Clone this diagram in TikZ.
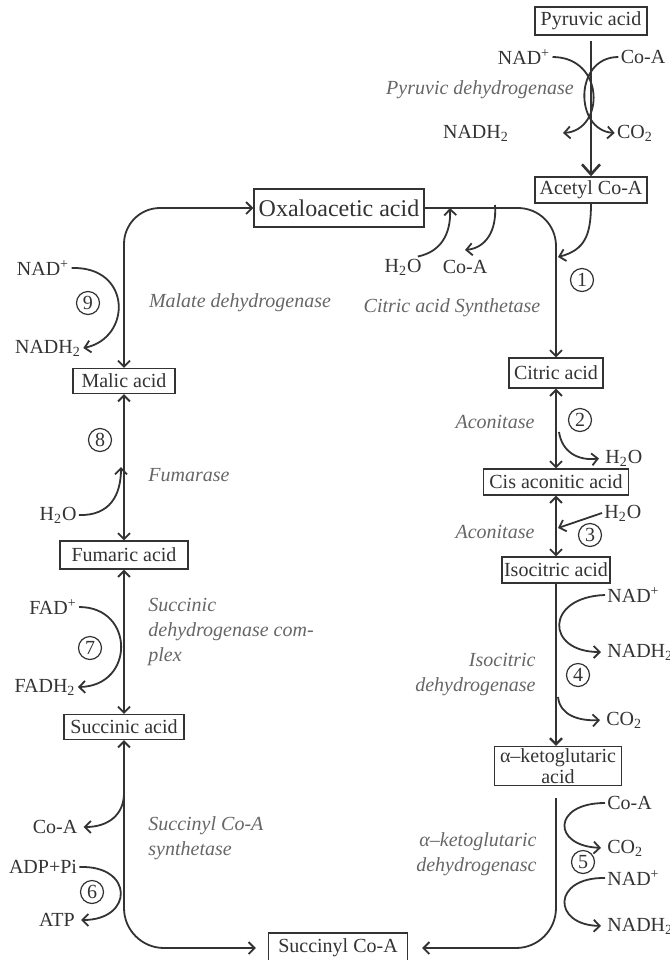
\documentclass[tikz,border=0pt]{standalone}
\usepackage{fontspec}
\setmainfont{Liberation Serif}
\usetikzlibrary{arrows.meta}

\begin{document}
\begin{tikzpicture}[x=0.5pt,y=-0.5pt,
  every node/.style={font=\fontsize{10}{12}\selectfont,text=black!80,inner sep=1pt},
  box/.style={draw=black!80,line width=0.7pt,minimum height=14pt},
  enz/.style={text=black!60,font=\fontsize{10}{12.5}\selectfont\itshape},
  num/.style={circle,draw=black!80,line width=0.6pt,minimum size=11.5pt,inner sep=0pt},
  link/.style={draw=black!80,line width=0.9pt},
  side/.style={link,->,shorten >=2pt},
  >={Straight Barb[length=3pt,width=6pt]}]

\useasboundingbox (0,0) rectangle (670,960);

\node[box,minimum width=56pt] (pyr) at (591,21) {Pyruvic acid};
\node[box,minimum width=56pt,minimum height=13pt] (acetyl) at (591,190) {Acetyl Co-A};
\node[box,minimum width=85pt,minimum height=19pt,font=\fontsize{12}{14}\selectfont] (oxalo) at (339,208) {Oxaloacetic acid};
\node[box,minimum width=47pt,minimum height=15pt] (citric) at (556,373) {Citric acid};
\node[box,minimum width=72.5pt,minimum height=13pt] (cis) at (556,482) {Cis aconitic acid};
\node[box,minimum width=54pt,minimum height=13pt] (iso) at (556,570) {Isocitric acid};
\node[box,minimum width=63.5pt,align=center,font=\fontsize{10}{10.5}\selectfont] (akg) at (558,766) {α–ketoglutaric\\acid};
\node[box,minimum width=69.5pt,minimum height=15pt] (succoa) at (338,948) {Succinyl Co-A};
\node[box,minimum width=60pt,minimum height=12.5pt] (succinic) at (124,727) {Succinic acid};
\node[box,minimum width=64pt] (fumaric) at (124,555) {Fumaric acid};
\node[box,minimum width=51pt,minimum height=12.5pt] (malic) at (124,381) {Malic acid};

\draw[link,->,rounded corners=19pt] (oxalo.east) -- (oxalo.east -| citric.north) -- (citric.north);
\draw[link,<->,rounded corners=18pt] (malic.north) |- (oxalo.west);
\draw[link,<->,rounded corners=20pt,shorten >=6pt] (succinic.south) |- (succoa.west);
\draw[link,->,rounded corners=20pt,shorten >=7pt] ([yshift=-6pt]akg.south -| iso.south) |- (succoa.east);
\draw[link,line width=1.3pt,-{Straight Barb[length=5pt,width=9pt]},shorten <=2.5pt] (pyr) -- (acetyl);
\draw[link,line width=1.1pt,->] (iso) -- (iso |- akg.north);
\foreach \a/\b in {citric/cis,cis/iso,malic/fumaric,fumaric/succinic}
  \draw[link,<->] (\a) -- (\b);

\node[enz] (pdh) at (480,90) {Pyruvic dehydrogenase};
\node[enz] (cas) at (452,308) {Citric acid Synthetase};
\node[enz] (acon1) at (495,422) {Aconitase};
\node[enz] (acon2) at (495,532) {Aconitase};
\node[enz,align=right,anchor=east] (idh) at (538,675) {Isocitric\\dehydrogenase};
\node[enz,align=right,anchor=east] (kdh) at (539,854) {α–ketoglutaric\\dehydrogenasc};
\node[enz] (mdh) at (240,303) {Malate dehydrogenase};
\node[enz] (fum) at (189,475) {Fumarase};
\node[enz,align=left,anchor=west] (sdh) at (146,632) {Succinic\\dehydrogenase com-\\plex};
\node[enz,align=left,anchor=west] (scs) at (146,838) {Succinyl Co-A\\synthetase};

\node (pdNAD) at (524,57) {NAD\textsuperscript{+}};
\node (pdCoA) at (643,57) {Co-A};
\node (pdNADH) at (476,133) {NADH\textsubscript{2}};
\node (pdCO) at (635,133) {CO\textsubscript{2}};
\coordinate (pdTip) at (563,133);
\draw[link,->] (pdNAD.east) .. controls (605,57) and (605,130) .. (pdTip);
\draw[link,->] (pdCoA.west) .. controls (574,57) and (574,130) .. (pdCO.west);

\node (ocH) at (403,267) {H\textsubscript{2}O};
\node (ocCoA) at (465,267) {Co-A};
\coordinate (ocHtip) at (450,208);
\coordinate (ocOut) at (495,205);
\coordinate (ocCoAtip) at (465,250);
\coordinate (acIn) at (558,257);
\draw[link,->] ([xshift=-3pt]ocH.north east) .. controls (440,252) and (451,235) .. (ocHtip);
\draw[link,->] (ocOut) .. controls (497,232) and (485,248) .. (ocCoAtip);
\draw[link,->] (acetyl.south) .. controls (591,235) and (585,250) .. (acIn);

\node[anchor=west] (a1H) at (603,458) {H\textsubscript{2}O};
\node[anchor=west] (a2H) at (602,513) {H\textsubscript{2}O};
\coordinate (a1Out) at (559,432);
\coordinate (a2In) at (558,528);
\draw[side] (a1Out) .. controls (562,452) and (578,461) .. (a1H.west);
\draw[link,->] (a2H.west) -- (a2In);

\node[anchor=west] (idNAD) at (605,595) {NAD\textsuperscript{+}};
\node[anchor=west] (idNADH) at (605,652) {NADH\textsubscript{2}};
\node[anchor=west] (idCO) at (604,720) {CO\textsubscript{2}};
\coordinate (idOut) at (558,697);
\draw[side] (idNAD.west) .. controls (545,597) and (545,652) .. (idNADH.west);
\draw[side] (idOut) .. controls (560,715) and (578,721) .. (idCO.west);

\node[anchor=west] (kdCoA) at (605,803) {Co-A};
\node[anchor=west] (kdCO) at (605,848) {CO\textsubscript{2}};
\node[anchor=west] (kdNAD) at (605,878) {NAD\textsuperscript{+}};
\node[anchor=west] (kdNADH) at (605,926) {NADH\textsubscript{2}};
\draw[side] (kdCoA.west) .. controls (552,803) and (552,846) .. (kdCO.west);
\draw[side] (kdNAD.west) .. controls (552,877) and (552,925) .. (kdNADH.west);

\node (mNAD) at (43,268) {NAD\textsuperscript{+}};
\node (mNADH) at (48,348) {NADH\textsubscript{2}};
\draw[link,->] (mNAD.east) .. controls (132,266) and (132,338) .. (mNADH.east);

\node (fH) at (58,515) {H\textsubscript{2}O};
\coordinate (fTip) at (121,467);
\draw[link,->] (fH.east) .. controls (110,516) and (121,495) .. (fTip);

\node (sFAD) at (53,607) {FAD\textsuperscript{+}};
\node (sFADH) at (45,687) {FADH\textsubscript{2}};
\draw[link,->] (sFAD.east) .. controls (135,607) and (135,686) .. (sFADH.east);

\node (scCoA) at (55,827) {Co-A};
\node (scADP) at (43,867) {ADP+Pi};
\node (scATP) at (57,920) {ATP};
\coordinate (scOut) at (124,793);
\draw[side] (scOut) .. controls (124,815) and (108,827) .. (scCoA.east);
\draw[side] (scADP.east) .. controls (134,865) and (134,920) .. (scATP.east);

\foreach \n/\x/\y in {1/582/280,2/580/420,3/590/535,4/578/675,5/583/862,6/92/892,7/90/648,8/100/440,9/88/303}
  \node[num] (c\n) at (\x,\y) {\n};

\end{tikzpicture}
\end{document}
